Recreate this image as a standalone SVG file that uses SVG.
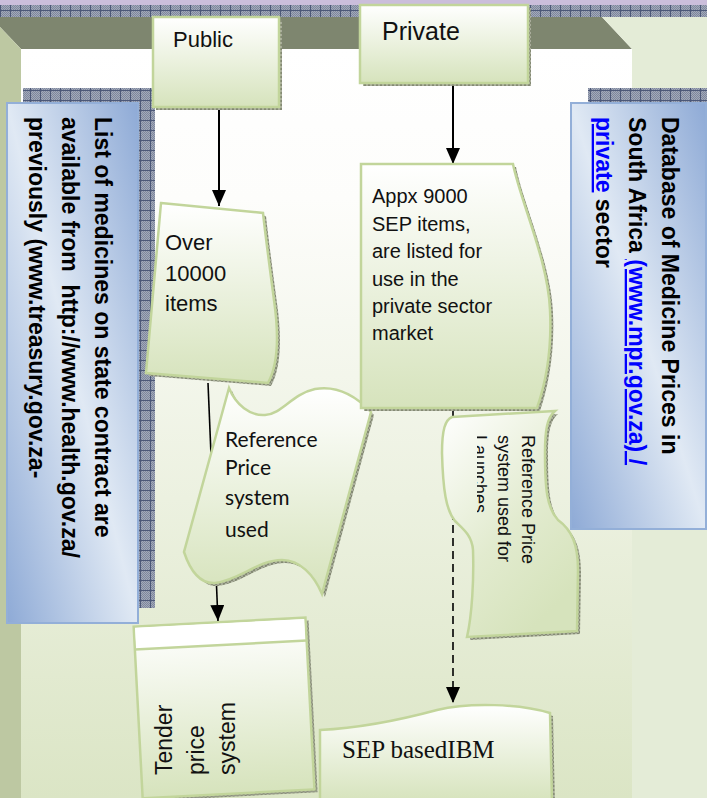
<svg xmlns="http://www.w3.org/2000/svg" width="707" height="798" viewBox="0 0 707 798">
<defs>
<style>
.sans{font-family:"Liberation Sans",Arial,sans-serif;fill:#111}
.bold{font-weight:bold;fill:#000}
.cal{font-family:Lato,"Open Sans",sans-serif;fill:#111}
.serif{font-family:"Liberation Serif","Times New Roman",serif;fill:#111}
.node{stroke:#c2d59b;stroke-width:2.5;fill:url(#ng)}
.shadow{fill:url(#nsh)}
.bluebox{fill:url(#bg);stroke:#93afd8;stroke-width:2}
.link{fill:#0000ff;text-decoration:underline}
.conn{stroke:#000;fill:none}
</style>
<linearGradient id="ng" x1="0" y1="0" x2="0" y2="1">
<stop offset="0" stop-color="#ffffff"/><stop offset="1" stop-color="#d6e3bc"/>
</linearGradient>
<linearGradient id="ngd" x1="0" y1="0" x2="0.6" y2="1">
<stop offset="0" stop-color="#ffffff"/><stop offset="0.6" stop-color="#e2ebcf"/><stop offset="1" stop-color="#d6e3bc"/>
</linearGradient>
<linearGradient id="bg" x1="1" y1="0" x2="0" y2="1">
<stop offset="0" stop-color="#8eaad6"/><stop offset="0.5" stop-color="#e0e9f4"/><stop offset="1" stop-color="#8eaad6"/>
</linearGradient>
<linearGradient id="ig" gradientUnits="userSpaceOnUse" x1="0" y1="49" x2="0" y2="798">
<stop offset="0" stop-color="#ffffff"/><stop offset="0.2" stop-color="#fdfdfb"/><stop offset="1" stop-color="#dbe5c5"/>
</linearGradient>
<pattern id="fine" width="2" height="2" patternUnits="userSpaceOnUse">
<rect width="2" height="2" fill="#a2a9ba"/><rect width="1" height="1" fill="#7e879c"/><rect x="1" y="1" width="1" height="1" fill="#7e879c"/>
</pattern>
<pattern id="grid" width="10" height="10" patternUnits="userSpaceOnUse">
<rect width="10" height="10" fill="url(#fine)"/><path d="M0 0.5H10M0.5 0V10" stroke="#4c5878" stroke-width="1"/>
</pattern>
<pattern id="nsh" width="4" height="4" patternUnits="userSpaceOnUse">
<rect width="4" height="4" fill="#a9ad9b"/><rect width="2" height="2" fill="#848a74"/><rect x="2" y="2" width="2" height="2" fill="#848a74"/>
</pattern>
<marker id="ah" markerUnits="userSpaceOnUse" markerWidth="16" markerHeight="14" refX="16" refY="7" orient="auto" viewBox="0 0 16 14">
<path d="M0,0 L16,7 L0,14 Z" fill="#000"/>
</marker>
<clipPath id="lclip"><rect x="477" y="420" width="110" height="220"/></clipPath>
</defs>

<g id="background">
<rect x="0" y="0" width="707" height="798" fill="url(#ig)"/>
<rect x="0" y="0" width="707" height="5" fill="#cbbedb"/>
<rect x="0" y="5" width="707" height="12" fill="url(#grid)"/>
<polygon points="0,17 602,17 632,49 21,49 0,27" fill="#7e866f"/>
<polygon points="0,27 21,49 21,798 0,798" fill="#bdc8a2"/>
<polygon points="602,17 707,17 707,798 632,798 632,49" fill="#e4ecd7"/>
</g>

<g id="left-note">
<rect x="23" y="88" width="132" height="520" fill="url(#grid)"/>
<rect class="bluebox" x="7" y="103" width="131" height="520"/>
<text class="sans bold" font-size="23" transform="translate(95,117) rotate(90)" xml:space="preserve"><tspan x="0" y="0">List of medicines on state contract are</tspan><tspan x="0" dy="33">available from  http://www.health.gov.za/</tspan><tspan x="0" dy="33">previously (www.treasury.gov.za-</tspan></text>
</g>

<g id="right-note">
<rect x="588" y="88" width="119" height="430" fill="url(#grid)"/>
<rect class="bluebox" x="571" y="103" width="135" height="426"/>
<text class="sans bold" font-size="23" transform="translate(662,117) rotate(90)"><tspan x="0" y="0">Database of Medicine Prices in</tspan><tspan x="0" dy="33">South Africa <tspan class="link">(www.mpr.gov.za) /</tspan></tspan><tspan x="0" dy="33"><tspan class="link">private</tspan> sector</tspan></text>
</g>

<g id="connectors">
<line class="conn" x1="219" y1="108" x2="219" y2="206" stroke-width="2" marker-end="url(#ah)"/>
<line class="conn" x1="453" y1="84" x2="453" y2="164" stroke-width="2" marker-end="url(#ah)"/>
<line class="conn" x1="208" y1="383" x2="218" y2="621" stroke-width="1.6" marker-end="url(#ah)"/>
<line class="conn" x1="453" y1="408" x2="453" y2="703" stroke-width="1.6" stroke-dasharray="8 5" marker-end="url(#ah)"/>
</g>

<g id="public">
<rect class="shadow" x="156" y="20" width="126" height="90"/>
<rect class="node" x="153" y="17" width="126" height="90"/>
<text class="sans" font-size="22" x="173" y="47">Public</text>
</g>

<g id="private">
<rect class="shadow" x="363" y="8" width="168" height="78"/>
<rect class="node" x="360" y="5" width="168" height="78"/>
<text class="sans" font-size="25" x="382" y="40">Private</text>
</g>

<g id="over-items">
<path class="shadow" transform="translate(3,3)" d="M161,203 L263,213 C266,240 270,270 274,300 C279,335 278,365 268,383 L146,373 Z"/>
<path class="node" d="M161,203 L263,213 C266,240 270,270 274,300 C279,335 278,365 268,383 L146,373 Z"/>
<text class="sans" font-size="22"><tspan x="165" y="250">Over</tspan><tspan x="165" y="281">10000</tspan><tspan x="165" y="311">items</tspan></text>
</g>

<g id="reference-price">
<path class="shadow" transform="translate(3,3)" d="M229,388 C236,405 250,416 265,415 C282,414 292,394 315,389 C338,385 356,396 371,412 L322,594 C314,575 300,560 282,560 C258,560 240,580 215,583 C200,584 190,570 184,552 Z"/>
<path class="node" d="M229,388 C236,405 250,416 265,415 C282,414 292,394 315,389 C338,385 356,396 371,412 L322,594 C314,575 300,560 282,560 C258,560 240,580 215,583 C200,584 190,570 184,552 Z"/>
<text class="cal" font-size="21"><tspan x="225" y="447">Reference</tspan><tspan x="225" y="475">Price</tspan><tspan x="225" y="505">system</tspan><tspan x="225" y="537">used</tspan></text>
</g>

<g id="sep-items">
<path class="shadow" transform="translate(3,3)" d="M361,164 L513,164 C520,200 548,260 550,310 C552,350 545,385 537,408 L361,408 Z"/>
<path class="node" d="M361,164 L513,164 C520,200 548,260 550,310 C552,350 545,385 537,408 L361,408 Z"/>
<text class="sans" font-size="20"><tspan x="372" y="203">Appx 9000</tspan><tspan x="372" y="231">SEP items,</tspan><tspan x="372" y="258">are listed for</tspan><tspan x="372" y="286">use in the</tspan><tspan x="372" y="313">private sector</tspan><tspan x="372" y="340">market</tspan></text>
</g>

<g id="launches">
<path class="shadow" transform="translate(3,3)" d="M452,417 L555,411 C547,418 545,430 545,453 C545,490 547,508 558,520 C572,530 578,545 578,570 L577,631 L467,637 C472,615 474,580 473,550 C472,535 462,528 455,521 C446,510 443,490 442,453 C442,430 445,420 452,417 Z"/>
<path class="node" style="fill:url(#ngd)" d="M452,417 L555,411 C547,418 545,430 545,453 C545,490 547,508 558,520 C572,530 578,545 578,570 L577,631 L467,637 C472,615 474,580 473,550 C472,535 462,528 455,521 C446,510 443,490 442,453 C442,430 445,420 452,417 Z"/>
<text class="sans" font-size="18" transform="translate(522,435) rotate(90)"><tspan x="0" y="0">Reference Price</tspan><tspan x="0" dy="24">system used for</tspan></text>
<g clip-path="url(#lclip)"><text class="sans" font-size="18" transform="translate(474,435) rotate(90)">Launches</text></g>
</g>

<g id="tender">
<g transform="rotate(-3,224,707)">
<rect class="shadow" x="141" y="625" width="172" height="172"/>
<rect class="node" x="138" y="622" width="172" height="172"/>
<rect x="139.5" y="623.5" width="169" height="21.5" fill="#ffffff"/>
<line x1="138" y1="645" x2="310" y2="645" stroke="#c2d59b" stroke-width="2.5"/>
</g>
<text class="sans" font-size="23" transform="translate(172,775) rotate(-90)"><tspan x="0" y="0">Tender</tspan><tspan x="0" dy="31.5">price</tspan><tspan x="0" dy="31.5">system</tspan></text>
</g>

<g id="sep-ibm">
<path class="shadow" transform="translate(3,3)" d="M320,730 C360,728 400,720 437,710 C470,702 520,704 550,713 L552,802 L320,802 Z"/>
<path class="node" d="M320,730 C360,728 400,720 437,710 C470,702 520,704 550,713 L552,802 L320,802 Z"/>
<text class="serif" font-size="25" x="342" y="758">SEP basedIBM</text>
</g>
</svg>
